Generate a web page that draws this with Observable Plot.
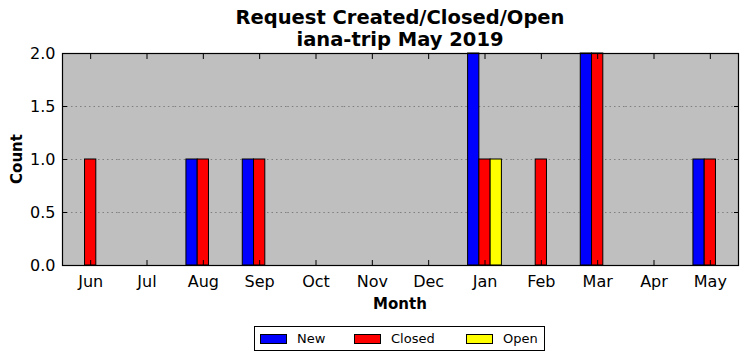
<!DOCTYPE html>
<html>
<head>
<meta charset="utf-8">
<script src="https://cdn.jsdelivr.net/npm/d3@7"></script>
<script src="https://cdn.jsdelivr.net/npm/@observablehq/plot@0.6"></script>
<style>
  html, body { margin: 0; padding: 0; background: #fff; }
  #wrap { position: relative; width: 747px; height: 361px; font-family: "DejaVu Sans", sans-serif; }
  #title { position: absolute; left: 62px; top: 7px; width: 676px; text-align: center;
           font-weight: bold; font-size: 19.5px; line-height: 22px; color: #000; }
  #ylabel { position: absolute; left: 17px; top: 159px; transform: translate(-50%, -50%) rotate(-90deg);
            font-weight: bold; font-size: 15px; white-space: nowrap; }
  #xlabel { position: absolute; left: 400px; top: 304px; transform: translate(-50%, -50%);
            font-weight: bold; font-size: 15px; }
  #legend { position: absolute; left: 254px; top: 326px; width: 289px; height: 23px;
            border: 1px solid #000; font-size: 13px; display: flex; align-items: center; box-sizing: content-box; }
  .item { display: flex; align-items: center; position: absolute; top: 0; height: 23px; }
  .sw { width: 25px; height: 8px; border: 1px solid #000; margin-right: 10px; }
  #chart svg { position: absolute; left: 0; top: 0; background: transparent; overflow: visible; }
</style>
</head>
<body>
<div id="wrap">
  <div id="chart"></div>
  <div id="title">Request Created/Closed/Open<br>iana-trip May 2019</div>
  <div id="ylabel">Count</div>
  <div id="xlabel">Month</div>
  <div id="legend"></div>
</div>
<script>
const months = ["Jun","Jul","Aug","Sep","Oct","Nov","Dec","Jan","Feb","Mar","Apr","May"];
const newCounts    = [0,0,1,1,0,0,0,2,0,2,0,1];
const closedCounts = [1,0,1,1,0,0,0,1,1,2,0,1];
const openCounts   = [0,0,0,0,0,0,0,1,0,0,0,0];
const series = ["New","Closed","Open"];
const colors = ["#0000ff","#ff0000","#ffff00"];
const yTicks = [0, 0.5, 1, 1.5, 2];
const gridTicks = [0.5, 1, 1.5];

const seriesValues = [newCounts, closedCounts, openCounts];
const table = [];
months.forEach((m, i) => {
  series.forEach((s, k) => table.push({month: m, series: s, value: seriesValues[k][i]}));
});

const fmt = d3.format(".1f");

const chart = Plot.plot({
  width: 747,
  height: 320,
  marginLeft: 62,
  marginRight: 9,
  marginTop: 53,
  marginBottom: 55,
  style: {fontFamily: "DejaVu Sans, sans-serif", fontSize: "16px", background: "transparent", overflow: "visible"},
  fx: {domain: months, paddingInner: 0, paddingOuter: 0, round: false, label: null},
  x: {domain: series, paddingInner: 0, paddingOuter: 1, round: false, axis: null},
  y: {domain: [0, 2], label: null},
  color: {domain: series, range: colors},
  marks: [
    Plot.frame({facet: "super", fill: "#bfbfbf"}),
    Plot.ruleY(gridTicks, {stroke: "#7f7f7f", strokeWidth: 1, strokeDasharray: "1.5,3"}),
    Plot.barY(table, {fx: "month", x: "series", y: "value", fill: "series", stroke: "#000", strokeWidth: 1}),
    Plot.axisFx({anchor: "bottom", tickSize: -5, tickPadding: 15, fontSize: 16, fill: "#000", label: null}),
    Plot.axisFx({anchor: "top", tickSize: -5, tickFormat: () => "", label: null}),
    Plot.axisY({anchor: "left", ticks: yTicks, tickSize: -5, tickPadding: 12, tickFormat: fmt, fontSize: 16, fill: "#000", label: null}),
    Plot.axisY({anchor: "right", ticks: yTicks, tickSize: -5, tickFormat: () => "", label: null}),
    Plot.frame({facet: "super", stroke: "#000", strokeWidth: 1.2})
  ]
});
document.getElementById("chart").appendChild(chart);

const legend = document.getElementById("legend");
const offsets = [5, 99, 211];
series.forEach((s, k) => {
  const it = document.createElement("div");
  it.className = "item";
  it.style.left = offsets[k] + "px";
  const sw = document.createElement("div");
  sw.className = "sw";
  sw.style.background = colors[k];
  const t = document.createElement("span");
  t.textContent = s;
  it.appendChild(sw);
  it.appendChild(t);
  legend.appendChild(it);
});
</script>
</body>
</html>
